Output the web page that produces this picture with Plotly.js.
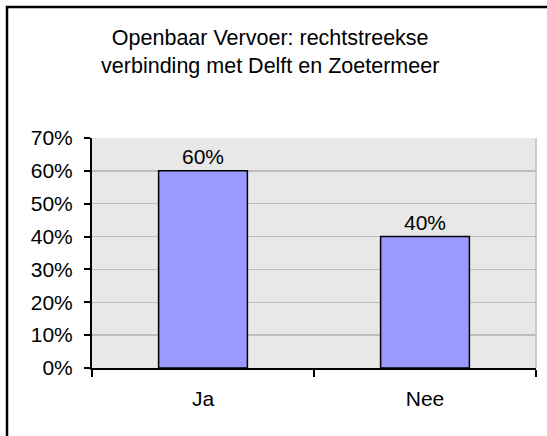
<!DOCTYPE html>
<html>
<head>
<meta charset="utf-8">
<script src="https://cdn.plot.ly/plotly-3.0.1.min.js"></script>
<style>html,body{margin:0;padding:0;background:#fff;}#chart{width:547px;height:436px;}</style>
</head>
<body>
<div id="chart"></div>
<script>
const categories = ["Ja", "Nee"];
const values = [0.60, 0.40];
const titleText = "Openbaar Vervoer: rechtstreekse<br>verbinding met Delft en Zoetermeer";
const yTickVals = [0, 0.1, 0.2, 0.3, 0.4, 0.5, 0.6, 0.7];

const font = {family: "Liberation Sans, Arial, sans-serif", color: "#000"};

const trace = {
  type: "bar",
  x: categories,
  y: values,
  width: 0.4,
  marker: {color: "#9999ff", line: {color: "#000", width: 1.5}},
  texttemplate: "%{y:.0%}",
  textposition: "outside",
  textfont: Object.assign({}, font, {size: 21}),
  cliponaxis: false,
  hoverinfo: "skip"
};

const L = 92, R = 11, T = 138, B = 68, W = 547, H = 436;
const pw = W - L - R, ph = H - T - B;
const px = v => (v - L) / pw;
const py = v => (H - B - v) / ph;

const layout = {
  width: W, height: H,
  margin: {l: L, r: R, t: T, b: B, pad: 0},
  paper_bgcolor: "#ffffff",
  plot_bgcolor: "#e8e8e8",
  font: Object.assign({}, font, {size: 21}),
  showlegend: false,
  title: {
    text: titleText,
    font: Object.assign({}, font, {size: 21.5}),
    x: 0.494, xanchor: "center", xref: "container",
    y: 1 - 45 / H, yanchor: "top", yref: "container"
  },
  xaxis: {
    type: "category",
    showline: true, linecolor: "#000", linewidth: 2,
    ticks: "outside", tickson: "boundaries", ticklen: 7, tickwidth: 2, tickcolor: "#000",
    ticklabelstandoff: 11,
    showgrid: false, zeroline: false,
    tickfont: Object.assign({}, font, {size: 21}),
    fixedrange: true
  },
  yaxis: {
    range: [0, 0.7],
    tickvals: yTickVals,
    tickformat: ".0%",
    showline: true, linecolor: "#000", linewidth: 2,
    ticks: "outside", ticklen: 6, tickwidth: 2, tickcolor: "#000",
    ticklabelstandoff: 7,
    showgrid: true, gridcolor: "#bdbdbd", gridwidth: 1.5,
    zeroline: false,
    tickfont: Object.assign({}, font, {size: 21}),
    fixedrange: true
  },
  bargap: 0.6,
  shapes: [
    {type: "line", xref: "paper", yref: "paper", x0: 1, x1: 1, y0: 0, y1: 1,
     line: {color: "#bdbdbd", width: 1.5}, layer: "below"},
    {type: "path", xref: "paper", yref: "paper",
     path: `M ${px(7)} ${py(H + 10)} L ${px(7)} ${py(7)} L ${px(W + 10)} ${py(7)}`,
     line: {color: "#000", width: 2.5}}
  ]
};

Plotly.newPlot("chart", [trace], layout, {displayModeBar: false, staticPlot: true});
</script>
</body>
</html>
